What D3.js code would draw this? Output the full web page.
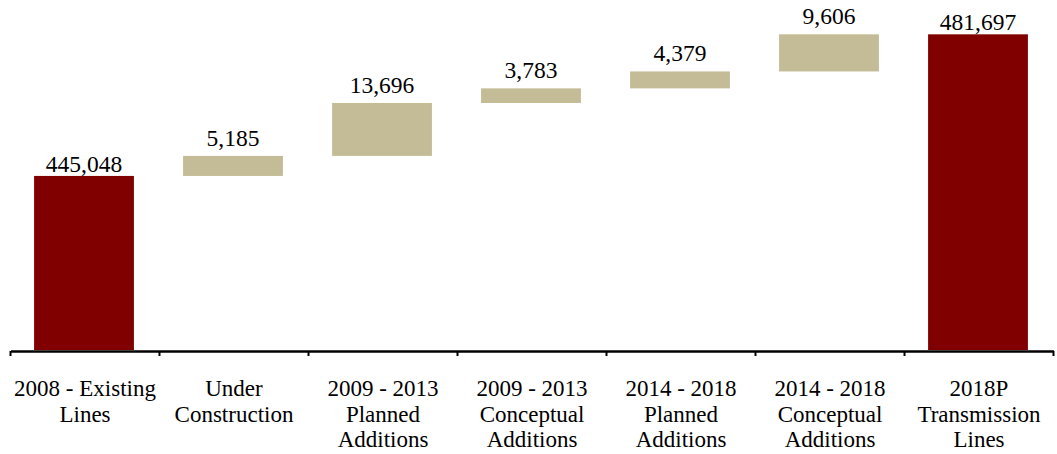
<!DOCTYPE html>
<html>
<head>
<meta charset="utf-8">
<script src="https://cdn.jsdelivr.net/npm/d3@7"></script>
<style>
  html, body { margin: 0; padding: 0; background: #fff; }
  svg { display: block; }
</style>
</head>
<body>
<svg id="chart" width="1057" height="454"></svg>
<script>
// ---- data ----
const categories = [
  ["2008 - Existing", "Lines"],
  ["Under", "Construction"],
  ["2009 - 2013", "Planned", "Additions"],
  ["2009 - 2013", "Conceptual", "Additions"],
  ["2014 - 2018", "Planned", "Additions"],
  ["2014 - 2018", "Conceptual", "Additions"],
  ["2018P", "Transmission", "Lines"]
];
const kinds = ["total", "delta", "delta", "delta", "delta", "delta", "total"];
const values = [445048, 5185, 13696, 3783, 4379, 9606, 481697];
const yDomain = [400000, 500000];

// ---- layout ----
const FONT = "'Liberation Serif', 'Times New Roman', Times, serif";
const svg = d3.select("#chart");
const baseY = 350;

const keys = categories.map((c, i) => String(i));
const x = d3.scaleBand().domain(keys).range([10.5, 1053.5]).padding(0);
const y = d3.scaleLinear().domain(yDomain).range([baseY, baseY - 386.4]);

// compute waterfall segments
let running = 0;
const segs = values.map((v, i) => {
  let lo, hi;
  if (kinds[i] === "total") { lo = yDomain[0]; hi = v; running = v; }
  else { lo = running; hi = running + v; running = hi; }
  return { i, v, lo, hi, kind: kinds[i] };
});

const barW = x.bandwidth() * 0.67;
const colors = { total: "#800000", delta: "#C4BC96" };

svg.append("g").selectAll("rect").data(segs).join("rect")
  .attr("x", d => x(String(d.i)) + (x.bandwidth() - barW) / 2 - 1)
  .attr("width", barW)
  .attr("y", d => y(d.hi))
  .attr("height", d => y(d.lo) - y(d.hi))
  .attr("fill", d => colors[d.kind]);

// value labels
const fmt = d3.format(",");
svg.append("g").selectAll("text").data(segs).join("text")
  .attr("x", d => x(String(d.i)) + x.bandwidth() / 2 - 1)
  .attr("y", d => y(d.hi) - (d.kind === "total" ? 4 : 10))
  .attr("text-anchor", "middle")
  .attr("font-family", FONT)
  .attr("font-size", "23.5px")
  .attr("fill", "#000")
  .text(d => fmt(d.v));

// axis
const axis = d3.axisBottom(x).tickSize(0).tickFormat("");
const gAxis = svg.append("g").attr("transform", `translate(0,${baseY + 1})`).call(axis);
gAxis.select(".domain").attr("stroke", "#000").attr("stroke-width", 2.3);
gAxis.selectAll(".tick").remove();

// boundary ticks
const bounds = keys.map(k => x(k)).concat([x.range()[1]]);
gAxis.selectAll("line.bt").data(bounds).join("line")
  .attr("class", "bt")
  .attr("x1", d => d).attr("x2", d => d)
  .attr("y1", 0).attr("y2", 5)
  .attr("stroke", "#000").attr("stroke-width", 2);

// category labels
const lab = svg.append("g").selectAll("text").data(categories).join("text")
  .attr("x", (d, i) => x(String(i)) + x.bandwidth() / 2)
  .attr("y", 396)
  .attr("text-anchor", "middle")
  .attr("font-family", FONT)
  .attr("font-size", "23px")
  .attr("fill", "#000");
lab.selectAll("tspan").data(d => d).join("tspan")
  .attr("x", function() { return d3.select(this.parentNode).attr("x"); })
  .attr("dy", (d, j) => j === 0 ? 0 : 25.5)
  .text(d => d);
</script>
</body>
</html>
